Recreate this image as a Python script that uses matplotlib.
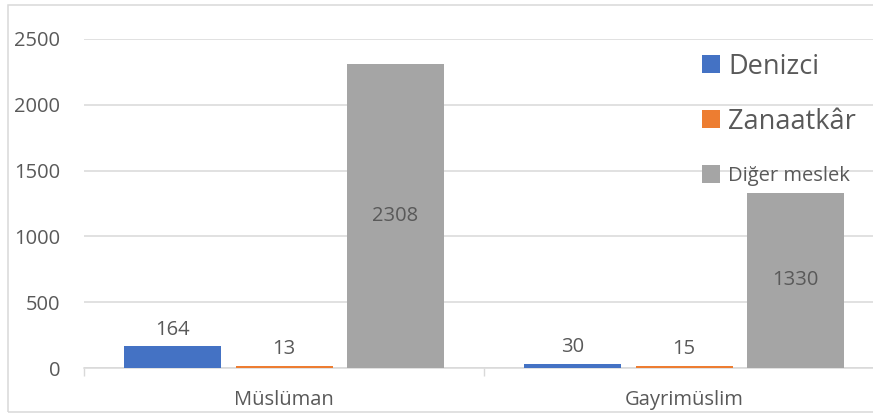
import matplotlib
matplotlib.use("Agg")
import matplotlib.pyplot as plt
from matplotlib.patches import Rectangle
import numpy as np

categories = ["Müslüman", "Gayrimüslim"]
series_names = ["Denizci", "Zanaatkâr", "Diğer meslek"]
denizci = [164, 30]
zanaatkar = [13, 15]
diger = [2308, 1330]
y_ticks = [0, 500, 1000, 1500, 2000, 2500]

values = [denizci, zanaatkar, diger]
colors = ["#4472C4", "#ED7D31", "#A5A5A5"]
legend_sizes = [19.5, 19.5, 14.5]
TXT = "#595959"
GRID = "#D9D9D9"

plt.rcParams["font.family"] = ["Open Sans", "DejaVu Sans"]

W, H = 873, 419
fig = plt.figure(figsize=(W / 100, H / 100), dpi=100)

def fx(x):
    return x / W

def fy(y):
    return 1 - y / H

# figure border
fig.patches.append(Rectangle((fx(8), fy(412)), fx(900), (412 - 5) / H,
                             transform=fig.transFigure, fill=False,
                             edgecolor=GRID, linewidth=1.1, zorder=0))

ax = fig.add_axes([fx(84), fy(368), 800 / W, (368 - 39) / H])
ax.set_facecolor("none")

x = np.arange(len(categories))
offsets = [-0.279, 0.0, 0.278]
bw = 0.2425
for i, (vals, col) in enumerate(zip(values, colors)):
    bars = ax.bar(x + offsets[i], vals, width=bw, color=col, zorder=3)
    for b, v in zip(bars, vals):
        cx = b.get_x() + b.get_width() / 2
        if v > 500:
            ax.text(cx, v / 2, str(v), ha="center", va="center",
                    fontsize=14.5, color=TXT, zorder=4)
        else:
            ax.annotate(str(v), (cx, v), xytext=(0, 8.5),
                        textcoords="offset points", ha="center",
                        va="baseline", fontsize=14.5, color=TXT, zorder=4)

ax.set_xlim(-0.5, 1.5)
ax.set_ylim(0, 2500)
ax.set_yticks(y_ticks)
ax.set_yticklabels([str(t) for t in y_ticks], fontsize=14.5, color=TXT)
ax.tick_params(axis="y", length=0, pad=17)
ax.yaxis.grid(True, color=GRID, linewidth=1.1, zorder=0)
ax.set_axisbelow(True)

ax.set_xticks([-0.5, 0.5, 1.5])
ax.set_xticklabels([])
ax.tick_params(axis="x", which="major", length=5.5, color=GRID, width=1.0)
ax.set_xticks(x, minor=True)
ax.set_xticklabels(categories, minor=True, fontsize=14.5, color=TXT)
ax.tick_params(axis="x", which="minor", length=0, pad=16)

for s in ["left", "right", "top"]:
    ax.spines[s].set_visible(False)
ax.spines["bottom"].set_color(GRID)
ax.spines["bottom"].set_linewidth(1.1)

# legend
leg_y = [64, 119, 174]
for name, col, fs, yc in zip(series_names, colors, legend_sizes, leg_y):
    fig.patches.append(Rectangle((fx(702), fy(yc + 9)), 18 / W, 18 / H,
                                 transform=fig.transFigure, facecolor=col,
                                 edgecolor="none", zorder=5))
    cap = 0.714 * fs * 100 / 72
    fig.text(fx(728), fy(yc + cap / 2), name, fontsize=fs, color=TXT,
             ha="left", va="baseline", zorder=6)

fig.savefig("out.png", dpi=100)
